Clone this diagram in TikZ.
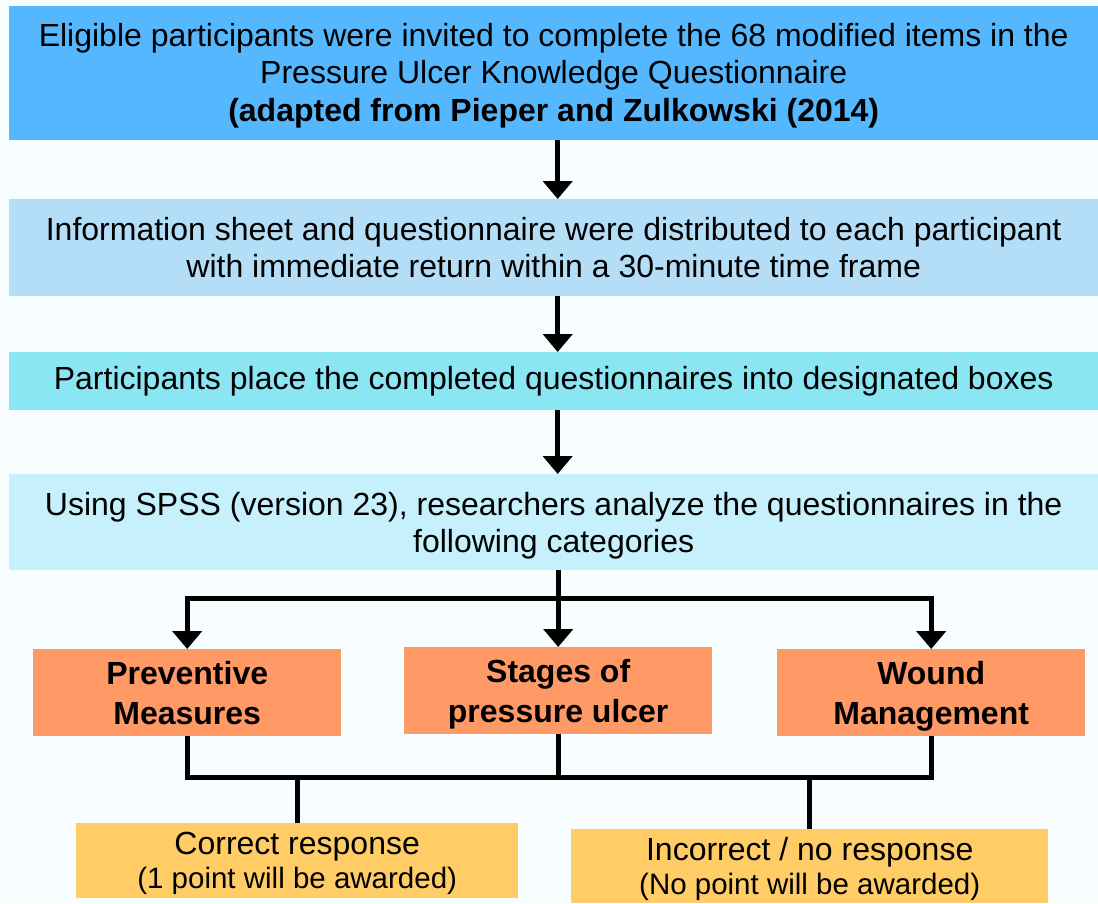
\documentclass[tikz,border=0pt]{standalone}
\usepackage{fontspec}
\setmainfont{Liberation Sans}
\usetikzlibrary{positioning,arrows.meta,calc}
\usepackage{xcolor}
\definecolor{paper}{HTML}{F8FDFF}
\definecolor{inviteBlue}{HTML}{55B8FF}
\definecolor{sheetBlue}{HTML}{B4DEF7}
\definecolor{boxCyan}{HTML}{8AE6F2}
\definecolor{spssCyan}{HTML}{C6F0FB}
\definecolor{catOrange}{HTML}{FF9966}
\definecolor{scoreYellow}{HTML}{FFCC66}

\begin{document}
\begin{tikzpicture}[x=1pt, y=1pt,
  font=\fontsize{32}{37.5}\selectfont,
  stage/.style={inner sep=0pt, minimum width=1089pt, align=center, anchor=north west},
  category/.style={fill=catOrange, inner sep=0pt, minimum width=308pt, minimum height=87pt,
    text depth=0pt, align=center, anchor=north west, font=\fontsize{32}{40}\selectfont\bfseries},
  score/.style={fill=scoreYellow, inner sep=0pt, text depth=1pt, align=center, anchor=north west},
  flow/.style={line width=5pt, -{Triangle[width=29pt,length=18pt]}},
  link/.style={line width=5pt}]
\useasboundingbox[fill=paper] (0,0) rectangle (1098,-903);

% process steps
\node[stage, fill=inviteBlue, minimum height=134pt, text depth=2pt] (invite) at (9,-6)
  {Eligible participants were invited to complete the 68 modified items in the\\
   Pressure Ulcer Knowledge Questionnaire\\
   \textbf{(adapted from Pieper and Zulkowski (2014)}};
\node[stage, fill=sheetBlue, minimum height=97pt] (sheet) at (9,-199)
  {Information sheet and questionnaire were distributed to each participant\\
   with immediate return within a 30-minute time frame};
\node[stage, fill=boxCyan, minimum height=58pt] (collect) at (9,-352)
  {Participants place the completed questionnaires into designated boxes};
\node[stage, fill=spssCyan, minimum height=96pt, text depth=0pt] (analyse) at (9,-474)
  {Using SPSS (version 23), researchers analyze the questionnaires in the\\
   following categories};

\draw[flow] ([xshift=4pt]invite.south) -- ([xshift=4pt]sheet.north);
\draw[flow] ([xshift=4pt]sheet.south) -- ([xshift=4pt]collect.north);
\draw[flow] ([xshift=4pt]collect.south) -- ([xshift=4pt]analyse.north);

% categories
\node[category] (prevent) at (33,-649) {Preventive\\Measures};
\node[category] (stages) at (404,-647) {Stages of\\pressure ulcer};
\node[category] (wound) at (777,-649) {Wound\\Management};

\coordinate (split) at ($(analyse.south -| stages.north)+(0,-28)$);
\draw[flow] (analyse.south -| stages.north) -- (stages.north);
\draw[flow] (split) -| (prevent.north);
\draw[flow] (split) -| (wound.north);

% scoring
\node[score, minimum width=442pt, minimum height=75pt] (correct) at (76,-823)
  {Correct response\\[-3pt]{\fontsize{29.5}{32}\selectfont (1 point will be awarded)}};
\node[score, minimum width=477pt, minimum height=74pt] (incorrect) at (571,-829)
  {Incorrect / no response\\[-3pt]{\fontsize{29.5}{32}\selectfont (No point will be awarded)}};

\coordinate (merge) at ($(stages.south)+(0,-43)$);
\draw[link] (prevent.south) |- (merge) -| (wound.south);
\draw[link] (stages.south) -- (merge);
\draw[link] (merge -| correct.north) -- (correct.north);
\draw[link] (merge -| incorrect.north) -- (incorrect.north);
\end{tikzpicture}
\end{document}
